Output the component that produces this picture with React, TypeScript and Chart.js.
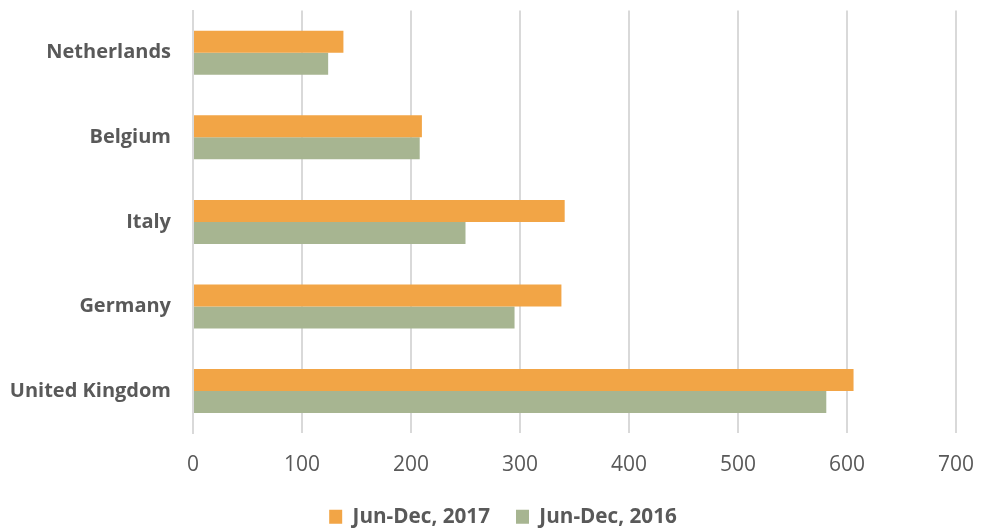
import React, { useEffect, useRef } from "react";
import { Chart, registerables } from "chart.js";

Chart.register(...registerables);

const categories = ["Netherlands", "Belgium", "Italy", "Germany", "United Kingdom"];
const series2017 = [138, 210, 341, 338, 606];
const series2016 = [124, 208, 250, 295, 581];
const seriesLabels = ["Jun-Dec, 2017", "Jun-Dec, 2016"];

const shiftLegend = {
  id: "shiftLegend",
  afterLayout(chart: any) {
    const lg = chart.legend;
    if (lg) {
      lg.left += 21;
      lg.right += 21;
    }
  },
};

export default function App() {
  const ref = useRef<HTMLCanvasElement>(null);
  useEffect(() => {
    if (!ref.current) return;
    const chart = new Chart(ref.current, {
      type: "bar",
      data: {
        labels: categories,
        datasets: [
          { label: seriesLabels[0], data: series2017, backgroundColor: "#F2A546" },
          { label: seriesLabels[1], data: series2016, backgroundColor: "#A7B591" },
        ],
      },
      plugins: [shiftLegend],
      options: {
        indexAxis: "y",
        animation: false,
        responsive: false,
        maintainAspectRatio: false,
        layout: { padding: { left: 8, right: 26, top: 0, bottom: -7 } },
        datasets: { bar: { categoryPercentage: 0.52, barPercentage: 1 } },
        plugins: {
          tooltip: { enabled: false },
          legend: {
            position: "bottom",
            labels: {
              boxWidth: 13,
              boxHeight: 14,
              padding: 26,
              color: "#595959",
              font: { family: "Open Sans", size: 20.7, weight: "bold" },
            },
          },
        },
        scales: {
          x: {
            min: 0,
            max: 700,
            afterFit: (scale: any) => {
              scale.paddingLeft = 0;
              scale.paddingRight = 0;
              scale.height = 47;
            },
            ticks: {
              stepSize: 100,
              padding: 19,
              color: "#595959",
              font: { family: "Open Sans", size: 21 },
            },
            grid: { color: "#d9d9d9", lineWidth: 2, drawTicks: false },
            border: { display: false },
          },
          y: {
            afterFit: (scale: any) => {
              scale.width = 185;
              scale.paddingTop = 10.5;
              scale.paddingBottom = 0;
            },
            ticks: {
              padding: 2,
              color: "#595959",
              font: { family: "Open Sans", size: 20, weight: "bold" },
            },
            grid: { display: false, drawTicks: true, tickLength: 20 },
            border: { display: true, color: "#d9d9d9", width: 2 },
          },
        },
      },
    });
    return () => chart.destroy();
  }, []);
  return (
    <div style={{ position: "fixed", left: 0, top: 0, width: 982, height: 530, background: "#fff" }}>
      <canvas ref={ref} width={982} height={530} />
    </div>
  );
}
